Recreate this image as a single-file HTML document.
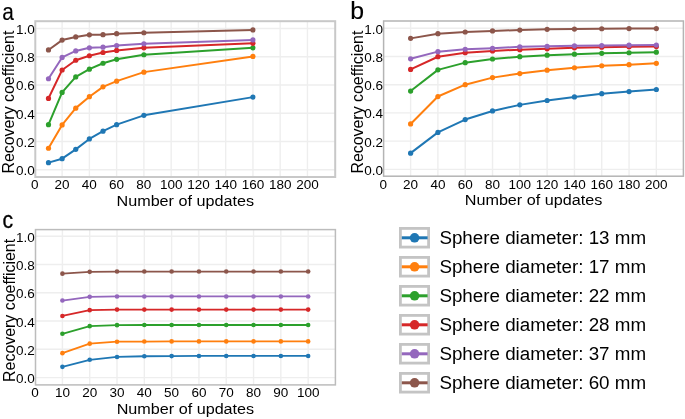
<!DOCTYPE html>
<html><head><meta charset="utf-8"><title>Recovery coefficient</title>
<style>
html,body{margin:0;padding:0;background:#fff;}
body{width:685px;height:419px;overflow:hidden;font-family:"Liberation Sans", sans-serif;}
svg{display:block;will-change:transform;}
</style></head><body>
<svg width="685" height="419" viewBox="0 0 685 419">
<style>
text { font-family: "Liberation Sans", sans-serif; fill: #000; }
.grid { stroke: #eeeeee; stroke-width: 1.4; }
.frame { fill: none; stroke: #c4c4c4; stroke-width: 1.8; }
.tick { font-size: 13.5px; }
.lab { font-size: 16.3px; }
.plab { font-size: 24px; stroke:#000; stroke-width:0.15px; }
.leg { font-size: 18.8px; }
</style>
<rect width="685" height="419" fill="#fff"/>
<line x1="62.11" y1="21.20" x2="62.11" y2="177.00" class="grid"/>
<line x1="89.37" y1="21.20" x2="89.37" y2="177.00" class="grid"/>
<line x1="116.63" y1="21.20" x2="116.63" y2="177.00" class="grid"/>
<line x1="143.89" y1="21.20" x2="143.89" y2="177.00" class="grid"/>
<line x1="171.15" y1="21.20" x2="171.15" y2="177.00" class="grid"/>
<line x1="198.41" y1="21.20" x2="198.41" y2="177.00" class="grid"/>
<line x1="225.67" y1="21.20" x2="225.67" y2="177.00" class="grid"/>
<line x1="252.93" y1="21.20" x2="252.93" y2="177.00" class="grid"/>
<line x1="280.19" y1="21.20" x2="280.19" y2="177.00" class="grid"/>
<line x1="307.45" y1="21.20" x2="307.45" y2="177.00" class="grid"/>
<line x1="35.30" y1="169.70" x2="335.20" y2="169.70" class="grid"/>
<line x1="35.30" y1="141.46" x2="335.20" y2="141.46" class="grid"/>
<line x1="35.30" y1="113.22" x2="335.20" y2="113.22" class="grid"/>
<line x1="35.30" y1="84.98" x2="335.20" y2="84.98" class="grid"/>
<line x1="35.30" y1="56.74" x2="335.20" y2="56.74" class="grid"/>
<line x1="35.30" y1="28.50" x2="335.20" y2="28.50" class="grid"/>
<rect x="35.30" y="21.20" width="299.90" height="155.80" class="frame" style="stroke-width:2.0px;stroke:#c8c8c8"/>
<polyline points="48.48,162.64 62.11,158.69 75.74,149.37 89.37,138.92 103.00,131.15 116.63,124.66 143.89,115.34 252.93,97.12" fill="none" stroke="#1f77b4" stroke-width="2.0" stroke-linejoin="round"/>
<circle cx="48.48" cy="162.64" r="2.60" fill="#1f77b4"/>
<circle cx="62.11" cy="158.69" r="2.60" fill="#1f77b4"/>
<circle cx="75.74" cy="149.37" r="2.60" fill="#1f77b4"/>
<circle cx="89.37" cy="138.92" r="2.60" fill="#1f77b4"/>
<circle cx="103.00" cy="131.15" r="2.60" fill="#1f77b4"/>
<circle cx="116.63" cy="124.66" r="2.60" fill="#1f77b4"/>
<circle cx="143.89" cy="115.34" r="2.60" fill="#1f77b4"/>
<circle cx="252.93" cy="97.12" r="2.60" fill="#1f77b4"/>
<polyline points="48.48,148.24 62.11,124.94 75.74,108.14 89.37,96.70 103.00,86.82 116.63,81.17 143.89,72.13 252.93,56.46" fill="none" stroke="#ff7f0e" stroke-width="2.0" stroke-linejoin="round"/>
<circle cx="48.48" cy="148.24" r="2.60" fill="#ff7f0e"/>
<circle cx="62.11" cy="124.94" r="2.60" fill="#ff7f0e"/>
<circle cx="75.74" cy="108.14" r="2.60" fill="#ff7f0e"/>
<circle cx="89.37" cy="96.70" r="2.60" fill="#ff7f0e"/>
<circle cx="103.00" cy="86.82" r="2.60" fill="#ff7f0e"/>
<circle cx="116.63" cy="81.17" r="2.60" fill="#ff7f0e"/>
<circle cx="143.89" cy="72.13" r="2.60" fill="#ff7f0e"/>
<circle cx="252.93" cy="56.46" r="2.60" fill="#ff7f0e"/>
<polyline points="48.48,124.66 62.11,92.46 75.74,76.93 89.37,69.17 103.00,63.24 116.63,59.28 143.89,54.76 252.93,47.84" fill="none" stroke="#2ca02c" stroke-width="2.0" stroke-linejoin="round"/>
<circle cx="48.48" cy="124.66" r="2.60" fill="#2ca02c"/>
<circle cx="62.11" cy="92.46" r="2.60" fill="#2ca02c"/>
<circle cx="75.74" cy="76.93" r="2.60" fill="#2ca02c"/>
<circle cx="89.37" cy="69.17" r="2.60" fill="#2ca02c"/>
<circle cx="103.00" cy="63.24" r="2.60" fill="#2ca02c"/>
<circle cx="116.63" cy="59.28" r="2.60" fill="#2ca02c"/>
<circle cx="143.89" cy="54.76" r="2.60" fill="#2ca02c"/>
<circle cx="252.93" cy="47.84" r="2.60" fill="#2ca02c"/>
<polyline points="48.48,98.39 62.11,70.01 75.74,60.27 89.37,55.75 103.00,52.50 116.63,50.39 143.89,47.84 252.93,43.33" fill="none" stroke="#d62728" stroke-width="2.0" stroke-linejoin="round"/>
<circle cx="48.48" cy="98.39" r="2.60" fill="#d62728"/>
<circle cx="62.11" cy="70.01" r="2.60" fill="#d62728"/>
<circle cx="75.74" cy="60.27" r="2.60" fill="#d62728"/>
<circle cx="89.37" cy="55.75" r="2.60" fill="#d62728"/>
<circle cx="103.00" cy="52.50" r="2.60" fill="#d62728"/>
<circle cx="116.63" cy="50.39" r="2.60" fill="#d62728"/>
<circle cx="143.89" cy="47.84" r="2.60" fill="#d62728"/>
<circle cx="252.93" cy="43.33" r="2.60" fill="#d62728"/>
<polyline points="48.48,78.77 62.11,57.45 75.74,50.95 89.37,47.84 103.00,47.14 116.63,45.59 143.89,43.75 252.93,39.94" fill="none" stroke="#9467bd" stroke-width="2.0" stroke-linejoin="round"/>
<circle cx="48.48" cy="78.77" r="2.60" fill="#9467bd"/>
<circle cx="62.11" cy="57.45" r="2.60" fill="#9467bd"/>
<circle cx="75.74" cy="50.95" r="2.60" fill="#9467bd"/>
<circle cx="89.37" cy="47.84" r="2.60" fill="#9467bd"/>
<circle cx="103.00" cy="47.14" r="2.60" fill="#9467bd"/>
<circle cx="116.63" cy="45.59" r="2.60" fill="#9467bd"/>
<circle cx="143.89" cy="43.75" r="2.60" fill="#9467bd"/>
<circle cx="252.93" cy="39.94" r="2.60" fill="#9467bd"/>
<polyline points="48.48,49.96 62.11,40.08 75.74,36.97 89.37,34.85 103.00,34.71 116.63,33.72 143.89,32.74 252.93,29.91" fill="none" stroke="#8c564b" stroke-width="2.0" stroke-linejoin="round"/>
<circle cx="48.48" cy="49.96" r="2.60" fill="#8c564b"/>
<circle cx="62.11" cy="40.08" r="2.60" fill="#8c564b"/>
<circle cx="75.74" cy="36.97" r="2.60" fill="#8c564b"/>
<circle cx="89.37" cy="34.85" r="2.60" fill="#8c564b"/>
<circle cx="103.00" cy="34.71" r="2.60" fill="#8c564b"/>
<circle cx="116.63" cy="33.72" r="2.60" fill="#8c564b"/>
<circle cx="143.89" cy="32.74" r="2.60" fill="#8c564b"/>
<circle cx="252.93" cy="29.91" r="2.60" fill="#8c564b"/>
<text x="34.70" y="175.20" text-anchor="end" class="tick">0.0</text>
<text x="34.70" y="146.96" text-anchor="end" class="tick">0.2</text>
<text x="34.70" y="118.72" text-anchor="end" class="tick">0.4</text>
<text x="34.70" y="90.48" text-anchor="end" class="tick">0.6</text>
<text x="34.70" y="62.24" text-anchor="end" class="tick">0.8</text>
<text x="34.70" y="34.00" text-anchor="end" class="tick">1.0</text>
<text x="34.85" y="189.00" text-anchor="middle" class="tick">0</text>
<text x="62.11" y="189.00" text-anchor="middle" class="tick">20</text>
<text x="89.37" y="189.00" text-anchor="middle" class="tick">40</text>
<text x="116.63" y="189.00" text-anchor="middle" class="tick">60</text>
<text x="143.89" y="189.00" text-anchor="middle" class="tick">80</text>
<text x="171.15" y="189.00" text-anchor="middle" class="tick">100</text>
<text x="198.41" y="189.00" text-anchor="middle" class="tick">120</text>
<text x="225.67" y="189.00" text-anchor="middle" class="tick">140</text>
<text x="252.93" y="189.00" text-anchor="middle" class="tick">160</text>
<text x="280.19" y="189.00" text-anchor="middle" class="tick">180</text>
<text x="307.45" y="189.00" text-anchor="middle" class="tick">200</text>
<text x="185.25" y="206.20" text-anchor="middle" class="lab" style="font-size:15.4px" textLength="137.5" lengthAdjust="spacingAndGlyphs">Number of updates</text>
<text transform="translate(14.30,102.10) rotate(-90)" x="0" y="0" text-anchor="middle" class="lab" style="font-size:16px" textLength="143" lengthAdjust="spacingAndGlyphs">Recovery coefficient</text>
<text x="2.2" y="19.6" class="plab" textLength="11.6" lengthAdjust="spacingAndGlyphs">a</text>
<line x1="410.60" y1="21.00" x2="410.60" y2="176.20" class="grid"/>
<line x1="437.91" y1="21.00" x2="437.91" y2="176.20" class="grid"/>
<line x1="465.21" y1="21.00" x2="465.21" y2="176.20" class="grid"/>
<line x1="492.52" y1="21.00" x2="492.52" y2="176.20" class="grid"/>
<line x1="519.82" y1="21.00" x2="519.82" y2="176.20" class="grid"/>
<line x1="547.12" y1="21.00" x2="547.12" y2="176.20" class="grid"/>
<line x1="574.43" y1="21.00" x2="574.43" y2="176.20" class="grid"/>
<line x1="601.73" y1="21.00" x2="601.73" y2="176.20" class="grid"/>
<line x1="629.04" y1="21.00" x2="629.04" y2="176.20" class="grid"/>
<line x1="656.34" y1="21.00" x2="656.34" y2="176.20" class="grid"/>
<line x1="383.60" y1="169.40" x2="683.40" y2="169.40" class="grid"/>
<line x1="383.60" y1="141.16" x2="683.40" y2="141.16" class="grid"/>
<line x1="383.60" y1="112.92" x2="683.40" y2="112.92" class="grid"/>
<line x1="383.60" y1="84.68" x2="683.40" y2="84.68" class="grid"/>
<line x1="383.60" y1="56.44" x2="683.40" y2="56.44" class="grid"/>
<line x1="383.60" y1="28.20" x2="683.40" y2="28.20" class="grid"/>
<rect x="383.60" y="21.00" width="299.80" height="155.20" class="frame" style="stroke-width:1.5px;stroke:#b4b4b4"/>
<polyline points="410.60,153.16 437.91,132.41 465.21,119.56 492.52,110.94 519.82,104.87 547.12,100.49 574.43,96.96 601.73,93.72 629.04,91.60 656.34,89.48" fill="none" stroke="#1f77b4" stroke-width="2.0" stroke-linejoin="round"/>
<circle cx="410.60" cy="153.16" r="2.60" fill="#1f77b4"/>
<circle cx="437.91" cy="132.41" r="2.60" fill="#1f77b4"/>
<circle cx="465.21" cy="119.56" r="2.60" fill="#1f77b4"/>
<circle cx="492.52" cy="110.94" r="2.60" fill="#1f77b4"/>
<circle cx="519.82" cy="104.87" r="2.60" fill="#1f77b4"/>
<circle cx="547.12" cy="100.49" r="2.60" fill="#1f77b4"/>
<circle cx="574.43" cy="96.96" r="2.60" fill="#1f77b4"/>
<circle cx="601.73" cy="93.72" r="2.60" fill="#1f77b4"/>
<circle cx="629.04" cy="91.60" r="2.60" fill="#1f77b4"/>
<circle cx="656.34" cy="89.48" r="2.60" fill="#1f77b4"/>
<polyline points="410.60,123.93 437.91,96.54 465.21,84.68 492.52,77.62 519.82,73.53 547.12,70.14 574.43,67.74 601.73,65.76 629.04,64.63 656.34,63.36" fill="none" stroke="#ff7f0e" stroke-width="2.0" stroke-linejoin="round"/>
<circle cx="410.60" cy="123.93" r="2.60" fill="#ff7f0e"/>
<circle cx="437.91" cy="96.54" r="2.60" fill="#ff7f0e"/>
<circle cx="465.21" cy="84.68" r="2.60" fill="#ff7f0e"/>
<circle cx="492.52" cy="77.62" r="2.60" fill="#ff7f0e"/>
<circle cx="519.82" cy="73.53" r="2.60" fill="#ff7f0e"/>
<circle cx="547.12" cy="70.14" r="2.60" fill="#ff7f0e"/>
<circle cx="574.43" cy="67.74" r="2.60" fill="#ff7f0e"/>
<circle cx="601.73" cy="65.76" r="2.60" fill="#ff7f0e"/>
<circle cx="629.04" cy="64.63" r="2.60" fill="#ff7f0e"/>
<circle cx="656.34" cy="63.36" r="2.60" fill="#ff7f0e"/>
<polyline points="410.60,91.03 437.91,69.85 465.21,62.65 492.52,58.98 519.82,56.72 547.12,55.17 574.43,54.18 601.73,53.33 629.04,52.77 656.34,52.20" fill="none" stroke="#2ca02c" stroke-width="2.0" stroke-linejoin="round"/>
<circle cx="410.60" cy="91.03" r="2.60" fill="#2ca02c"/>
<circle cx="437.91" cy="69.85" r="2.60" fill="#2ca02c"/>
<circle cx="465.21" cy="62.65" r="2.60" fill="#2ca02c"/>
<circle cx="492.52" cy="58.98" r="2.60" fill="#2ca02c"/>
<circle cx="519.82" cy="56.72" r="2.60" fill="#2ca02c"/>
<circle cx="547.12" cy="55.17" r="2.60" fill="#2ca02c"/>
<circle cx="574.43" cy="54.18" r="2.60" fill="#2ca02c"/>
<circle cx="601.73" cy="53.33" r="2.60" fill="#2ca02c"/>
<circle cx="629.04" cy="52.77" r="2.60" fill="#2ca02c"/>
<circle cx="656.34" cy="52.20" r="2.60" fill="#2ca02c"/>
<polyline points="410.60,69.43 437.91,56.72 465.21,52.77 492.52,50.93 519.82,49.66 547.12,48.82 574.43,47.83 601.73,47.26 629.04,46.84 656.34,46.56" fill="none" stroke="#d62728" stroke-width="2.0" stroke-linejoin="round"/>
<circle cx="410.60" cy="69.43" r="2.60" fill="#d62728"/>
<circle cx="437.91" cy="56.72" r="2.60" fill="#d62728"/>
<circle cx="465.21" cy="52.77" r="2.60" fill="#d62728"/>
<circle cx="492.52" cy="50.93" r="2.60" fill="#d62728"/>
<circle cx="519.82" cy="49.66" r="2.60" fill="#d62728"/>
<circle cx="547.12" cy="48.82" r="2.60" fill="#d62728"/>
<circle cx="574.43" cy="47.83" r="2.60" fill="#d62728"/>
<circle cx="601.73" cy="47.26" r="2.60" fill="#d62728"/>
<circle cx="629.04" cy="46.84" r="2.60" fill="#d62728"/>
<circle cx="656.34" cy="46.56" r="2.60" fill="#d62728"/>
<polyline points="410.60,58.84 437.91,51.64 465.21,49.24 492.52,48.25 519.82,46.84 547.12,46.27 574.43,45.85 601.73,45.57 629.04,45.14 656.34,45.00" fill="none" stroke="#9467bd" stroke-width="2.0" stroke-linejoin="round"/>
<circle cx="410.60" cy="58.84" r="2.60" fill="#9467bd"/>
<circle cx="437.91" cy="51.64" r="2.60" fill="#9467bd"/>
<circle cx="465.21" cy="49.24" r="2.60" fill="#9467bd"/>
<circle cx="492.52" cy="48.25" r="2.60" fill="#9467bd"/>
<circle cx="519.82" cy="46.84" r="2.60" fill="#9467bd"/>
<circle cx="547.12" cy="46.27" r="2.60" fill="#9467bd"/>
<circle cx="574.43" cy="45.85" r="2.60" fill="#9467bd"/>
<circle cx="601.73" cy="45.57" r="2.60" fill="#9467bd"/>
<circle cx="629.04" cy="45.14" r="2.60" fill="#9467bd"/>
<circle cx="656.34" cy="45.00" r="2.60" fill="#9467bd"/>
<polyline points="410.60,38.37 437.91,33.71 465.21,32.01 492.52,30.88 519.82,30.04 547.12,29.33 574.43,29.05 601.73,28.76 629.04,28.62 656.34,28.62" fill="none" stroke="#8c564b" stroke-width="2.0" stroke-linejoin="round"/>
<circle cx="410.60" cy="38.37" r="2.60" fill="#8c564b"/>
<circle cx="437.91" cy="33.71" r="2.60" fill="#8c564b"/>
<circle cx="465.21" cy="32.01" r="2.60" fill="#8c564b"/>
<circle cx="492.52" cy="30.88" r="2.60" fill="#8c564b"/>
<circle cx="519.82" cy="30.04" r="2.60" fill="#8c564b"/>
<circle cx="547.12" cy="29.33" r="2.60" fill="#8c564b"/>
<circle cx="574.43" cy="29.05" r="2.60" fill="#8c564b"/>
<circle cx="601.73" cy="28.76" r="2.60" fill="#8c564b"/>
<circle cx="629.04" cy="28.62" r="2.60" fill="#8c564b"/>
<circle cx="656.34" cy="28.62" r="2.60" fill="#8c564b"/>
<text x="383.00" y="174.90" text-anchor="end" class="tick">0.0</text>
<text x="383.00" y="146.66" text-anchor="end" class="tick">0.2</text>
<text x="383.00" y="118.42" text-anchor="end" class="tick">0.4</text>
<text x="383.00" y="90.18" text-anchor="end" class="tick">0.6</text>
<text x="383.00" y="61.94" text-anchor="end" class="tick">0.8</text>
<text x="383.00" y="33.70" text-anchor="end" class="tick">1.0</text>
<text x="383.30" y="188.90" text-anchor="middle" class="tick">0</text>
<text x="410.60" y="188.90" text-anchor="middle" class="tick">20</text>
<text x="437.91" y="188.90" text-anchor="middle" class="tick">40</text>
<text x="465.21" y="188.90" text-anchor="middle" class="tick">60</text>
<text x="492.52" y="188.90" text-anchor="middle" class="tick">80</text>
<text x="519.82" y="188.90" text-anchor="middle" class="tick">100</text>
<text x="547.12" y="188.90" text-anchor="middle" class="tick">120</text>
<text x="574.43" y="188.90" text-anchor="middle" class="tick">140</text>
<text x="601.73" y="188.90" text-anchor="middle" class="tick">160</text>
<text x="629.04" y="188.90" text-anchor="middle" class="tick">180</text>
<text x="656.34" y="188.90" text-anchor="middle" class="tick">200</text>
<text x="533.50" y="205.40" text-anchor="middle" class="lab" style="font-size:15.4px" textLength="137.5" lengthAdjust="spacingAndGlyphs">Number of updates</text>
<text transform="translate(362.60,102.10) rotate(-90)" x="0" y="0" text-anchor="middle" class="lab" style="font-size:16px" textLength="143" lengthAdjust="spacingAndGlyphs">Recovery coefficient</text>
<text x="350.2" y="19.4" class="plab" style="font-size:24.8px;">b</text>
<line x1="62.41" y1="229.60" x2="62.41" y2="384.90" class="grid"/>
<line x1="89.71" y1="229.60" x2="89.71" y2="384.90" class="grid"/>
<line x1="117.02" y1="229.60" x2="117.02" y2="384.90" class="grid"/>
<line x1="144.32" y1="229.60" x2="144.32" y2="384.90" class="grid"/>
<line x1="171.63" y1="229.60" x2="171.63" y2="384.90" class="grid"/>
<line x1="198.94" y1="229.60" x2="198.94" y2="384.90" class="grid"/>
<line x1="226.24" y1="229.60" x2="226.24" y2="384.90" class="grid"/>
<line x1="253.55" y1="229.60" x2="253.55" y2="384.90" class="grid"/>
<line x1="280.85" y1="229.60" x2="280.85" y2="384.90" class="grid"/>
<line x1="308.16" y1="229.60" x2="308.16" y2="384.90" class="grid"/>
<line x1="35.50" y1="377.60" x2="335.40" y2="377.60" class="grid"/>
<line x1="35.50" y1="349.32" x2="335.40" y2="349.32" class="grid"/>
<line x1="35.50" y1="321.04" x2="335.40" y2="321.04" class="grid"/>
<line x1="35.50" y1="292.76" x2="335.40" y2="292.76" class="grid"/>
<line x1="35.50" y1="264.48" x2="335.40" y2="264.48" class="grid"/>
<line x1="35.50" y1="236.20" x2="335.40" y2="236.20" class="grid"/>
<rect x="35.50" y="229.60" width="299.90" height="155.30" class="frame" style="stroke-width:1.5px;stroke:#bcbcbc"/>
<polyline points="62.41,366.85 89.71,359.78 117.02,356.96 144.32,356.25 171.63,356.11 198.94,355.97 226.24,355.97 253.55,355.97 280.85,355.97 308.16,355.97" fill="none" stroke="#1f77b4" stroke-width="1.8" stroke-linejoin="round"/>
<circle cx="62.41" cy="366.85" r="2.30" fill="#1f77b4"/>
<circle cx="89.71" cy="359.78" r="2.30" fill="#1f77b4"/>
<circle cx="117.02" cy="356.96" r="2.30" fill="#1f77b4"/>
<circle cx="144.32" cy="356.25" r="2.30" fill="#1f77b4"/>
<circle cx="171.63" cy="356.11" r="2.30" fill="#1f77b4"/>
<circle cx="198.94" cy="355.97" r="2.30" fill="#1f77b4"/>
<circle cx="226.24" cy="355.97" r="2.30" fill="#1f77b4"/>
<circle cx="253.55" cy="355.97" r="2.30" fill="#1f77b4"/>
<circle cx="280.85" cy="355.97" r="2.30" fill="#1f77b4"/>
<circle cx="308.16" cy="355.97" r="2.30" fill="#1f77b4"/>
<polyline points="62.41,353.14 89.71,343.66 117.02,341.68 144.32,341.54 171.63,341.40 198.94,341.40 226.24,341.40 253.55,341.40 280.85,341.40 308.16,341.40" fill="none" stroke="#ff7f0e" stroke-width="1.8" stroke-linejoin="round"/>
<circle cx="62.41" cy="353.14" r="2.30" fill="#ff7f0e"/>
<circle cx="89.71" cy="343.66" r="2.30" fill="#ff7f0e"/>
<circle cx="117.02" cy="341.68" r="2.30" fill="#ff7f0e"/>
<circle cx="144.32" cy="341.54" r="2.30" fill="#ff7f0e"/>
<circle cx="171.63" cy="341.40" r="2.30" fill="#ff7f0e"/>
<circle cx="198.94" cy="341.40" r="2.30" fill="#ff7f0e"/>
<circle cx="226.24" cy="341.40" r="2.30" fill="#ff7f0e"/>
<circle cx="253.55" cy="341.40" r="2.30" fill="#ff7f0e"/>
<circle cx="280.85" cy="341.40" r="2.30" fill="#ff7f0e"/>
<circle cx="308.16" cy="341.40" r="2.30" fill="#ff7f0e"/>
<polyline points="62.41,333.77 89.71,326.13 117.02,325.14 144.32,325.00 171.63,325.00 198.94,325.00 226.24,325.00 253.55,325.00 280.85,325.00 308.16,325.00" fill="none" stroke="#2ca02c" stroke-width="1.8" stroke-linejoin="round"/>
<circle cx="62.41" cy="333.77" r="2.30" fill="#2ca02c"/>
<circle cx="89.71" cy="326.13" r="2.30" fill="#2ca02c"/>
<circle cx="117.02" cy="325.14" r="2.30" fill="#2ca02c"/>
<circle cx="144.32" cy="325.00" r="2.30" fill="#2ca02c"/>
<circle cx="171.63" cy="325.00" r="2.30" fill="#2ca02c"/>
<circle cx="198.94" cy="325.00" r="2.30" fill="#2ca02c"/>
<circle cx="226.24" cy="325.00" r="2.30" fill="#2ca02c"/>
<circle cx="253.55" cy="325.00" r="2.30" fill="#2ca02c"/>
<circle cx="280.85" cy="325.00" r="2.30" fill="#2ca02c"/>
<circle cx="308.16" cy="325.00" r="2.30" fill="#2ca02c"/>
<polyline points="62.41,315.95 89.71,310.15 117.02,309.59 144.32,309.59 171.63,309.59 198.94,309.59 226.24,309.59 253.55,309.59 280.85,309.59 308.16,309.59" fill="none" stroke="#d62728" stroke-width="1.8" stroke-linejoin="round"/>
<circle cx="62.41" cy="315.95" r="2.30" fill="#d62728"/>
<circle cx="89.71" cy="310.15" r="2.30" fill="#d62728"/>
<circle cx="117.02" cy="309.59" r="2.30" fill="#d62728"/>
<circle cx="144.32" cy="309.59" r="2.30" fill="#d62728"/>
<circle cx="171.63" cy="309.59" r="2.30" fill="#d62728"/>
<circle cx="198.94" cy="309.59" r="2.30" fill="#d62728"/>
<circle cx="226.24" cy="309.59" r="2.30" fill="#d62728"/>
<circle cx="253.55" cy="309.59" r="2.30" fill="#d62728"/>
<circle cx="280.85" cy="309.59" r="2.30" fill="#d62728"/>
<circle cx="308.16" cy="309.59" r="2.30" fill="#d62728"/>
<polyline points="62.41,300.54 89.71,296.86 117.02,296.44 144.32,296.44 171.63,296.44 198.94,296.44 226.24,296.44 253.55,296.44 280.85,296.44 308.16,296.44" fill="none" stroke="#9467bd" stroke-width="1.8" stroke-linejoin="round"/>
<circle cx="62.41" cy="300.54" r="2.30" fill="#9467bd"/>
<circle cx="89.71" cy="296.86" r="2.30" fill="#9467bd"/>
<circle cx="117.02" cy="296.44" r="2.30" fill="#9467bd"/>
<circle cx="144.32" cy="296.44" r="2.30" fill="#9467bd"/>
<circle cx="171.63" cy="296.44" r="2.30" fill="#9467bd"/>
<circle cx="198.94" cy="296.44" r="2.30" fill="#9467bd"/>
<circle cx="226.24" cy="296.44" r="2.30" fill="#9467bd"/>
<circle cx="253.55" cy="296.44" r="2.30" fill="#9467bd"/>
<circle cx="280.85" cy="296.44" r="2.30" fill="#9467bd"/>
<circle cx="308.16" cy="296.44" r="2.30" fill="#9467bd"/>
<polyline points="62.41,273.67 89.71,271.83 117.02,271.55 144.32,271.55 171.63,271.55 198.94,271.55 226.24,271.55 253.55,271.55 280.85,271.55 308.16,271.55" fill="none" stroke="#8c564b" stroke-width="1.8" stroke-linejoin="round"/>
<circle cx="62.41" cy="273.67" r="2.30" fill="#8c564b"/>
<circle cx="89.71" cy="271.83" r="2.30" fill="#8c564b"/>
<circle cx="117.02" cy="271.55" r="2.30" fill="#8c564b"/>
<circle cx="144.32" cy="271.55" r="2.30" fill="#8c564b"/>
<circle cx="171.63" cy="271.55" r="2.30" fill="#8c564b"/>
<circle cx="198.94" cy="271.55" r="2.30" fill="#8c564b"/>
<circle cx="226.24" cy="271.55" r="2.30" fill="#8c564b"/>
<circle cx="253.55" cy="271.55" r="2.30" fill="#8c564b"/>
<circle cx="280.85" cy="271.55" r="2.30" fill="#8c564b"/>
<circle cx="308.16" cy="271.55" r="2.30" fill="#8c564b"/>
<text x="34.90" y="383.10" text-anchor="end" class="tick">0.0</text>
<text x="34.90" y="354.82" text-anchor="end" class="tick">0.2</text>
<text x="34.90" y="326.54" text-anchor="end" class="tick">0.4</text>
<text x="34.90" y="298.26" text-anchor="end" class="tick">0.6</text>
<text x="34.90" y="269.98" text-anchor="end" class="tick">0.8</text>
<text x="34.90" y="241.70" text-anchor="end" class="tick">1.0</text>
<text x="35.10" y="396.90" text-anchor="middle" class="tick">0</text>
<text x="62.41" y="396.90" text-anchor="middle" class="tick">10</text>
<text x="89.71" y="396.90" text-anchor="middle" class="tick">20</text>
<text x="117.02" y="396.90" text-anchor="middle" class="tick">30</text>
<text x="144.32" y="396.90" text-anchor="middle" class="tick">40</text>
<text x="171.63" y="396.90" text-anchor="middle" class="tick">50</text>
<text x="198.94" y="396.90" text-anchor="middle" class="tick">60</text>
<text x="226.24" y="396.90" text-anchor="middle" class="tick">70</text>
<text x="253.55" y="396.90" text-anchor="middle" class="tick">80</text>
<text x="280.85" y="396.90" text-anchor="middle" class="tick">90</text>
<text x="308.16" y="396.90" text-anchor="middle" class="tick">100</text>
<text x="185.45" y="414.10" text-anchor="middle" class="lab" style="font-size:15.4px" textLength="137.5" lengthAdjust="spacingAndGlyphs">Number of updates</text>
<text transform="translate(14.50,310.40) rotate(-90)" x="0" y="0" text-anchor="middle" class="lab" style="font-size:16px" textLength="143" lengthAdjust="spacingAndGlyphs">Recovery coefficient</text>
<text x="2.6" y="228.2" class="plab" textLength="10.6" lengthAdjust="spacingAndGlyphs" style="font-size:23px;stroke-width:0.3px;">c</text>
<rect x="400.4" y="228.40" width="28.2" height="18.7" fill="#fff" stroke="#c4c4c4" stroke-width="2.8"/>
<line x1="401.8" y1="237.80" x2="427.6" y2="237.80" stroke="#1f77b4" stroke-width="3"/>
<circle cx="414.6" cy="237.80" r="4.8" fill="#1f77b4"/>
<text x="439.4" y="244.00" class="leg">Sphere diameter: 13 mm</text>
<rect x="400.4" y="257.40" width="28.2" height="18.7" fill="#fff" stroke="#c4c4c4" stroke-width="2.8"/>
<line x1="401.8" y1="266.80" x2="427.6" y2="266.80" stroke="#ff7f0e" stroke-width="3"/>
<circle cx="414.6" cy="266.80" r="4.8" fill="#ff7f0e"/>
<text x="439.4" y="273.00" class="leg">Sphere diameter: 17 mm</text>
<rect x="400.4" y="286.40" width="28.2" height="18.7" fill="#fff" stroke="#c4c4c4" stroke-width="2.8"/>
<line x1="401.8" y1="295.80" x2="427.6" y2="295.80" stroke="#2ca02c" stroke-width="3"/>
<circle cx="414.6" cy="295.80" r="4.8" fill="#2ca02c"/>
<text x="439.4" y="302.00" class="leg">Sphere diameter: 22 mm</text>
<rect x="400.4" y="315.40" width="28.2" height="18.7" fill="#fff" stroke="#c4c4c4" stroke-width="2.8"/>
<line x1="401.8" y1="324.80" x2="427.6" y2="324.80" stroke="#d62728" stroke-width="3"/>
<circle cx="414.6" cy="324.80" r="4.8" fill="#d62728"/>
<text x="439.4" y="331.00" class="leg">Sphere diameter: 28 mm</text>
<rect x="400.4" y="344.40" width="28.2" height="18.7" fill="#fff" stroke="#c4c4c4" stroke-width="2.8"/>
<line x1="401.8" y1="353.80" x2="427.6" y2="353.80" stroke="#9467bd" stroke-width="3"/>
<circle cx="414.6" cy="353.80" r="4.8" fill="#9467bd"/>
<text x="439.4" y="360.00" class="leg">Sphere diameter: 37 mm</text>
<rect x="400.4" y="373.40" width="28.2" height="18.7" fill="#fff" stroke="#c4c4c4" stroke-width="2.8"/>
<line x1="401.8" y1="382.80" x2="427.6" y2="382.80" stroke="#8c564b" stroke-width="3"/>
<circle cx="414.6" cy="382.80" r="4.8" fill="#8c564b"/>
<text x="439.4" y="389.00" class="leg">Sphere diameter: 60 mm</text>
</svg>
</body></html>
